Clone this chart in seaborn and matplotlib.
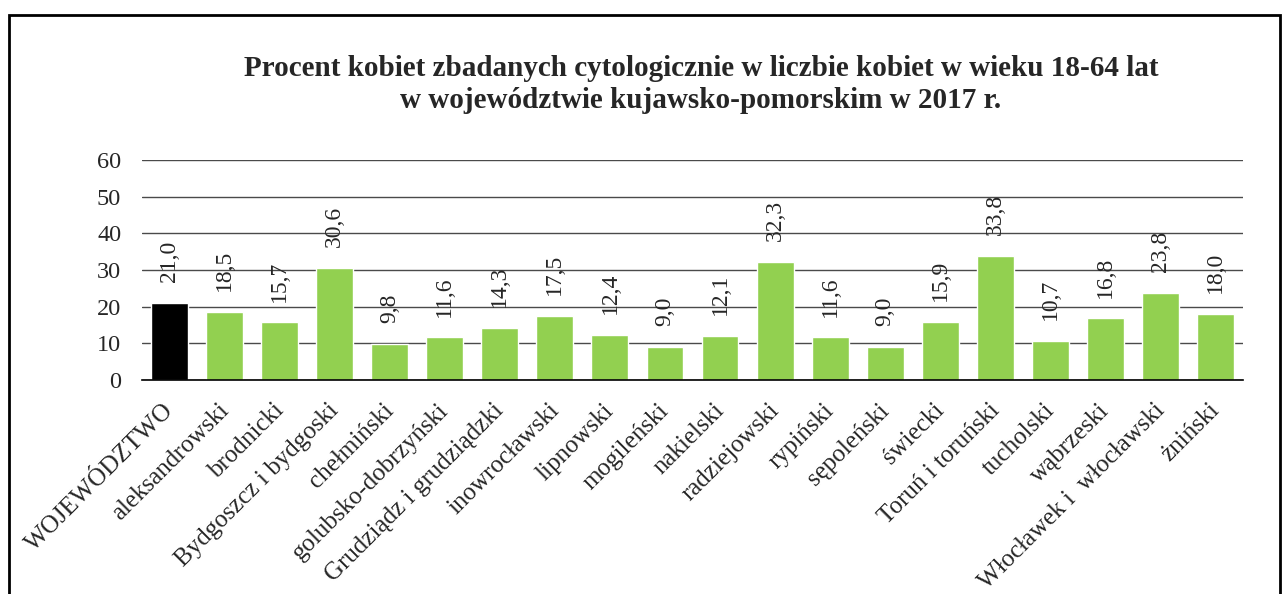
import matplotlib
matplotlib.use("Agg")
import matplotlib.pyplot as plt
import matplotlib.transforms as mtransforms
import seaborn as sns
from matplotlib.patches import Rectangle

categories = ["WOJEWÓDZTWO", "aleksandrowski", "brodnicki", "Bydgoszcz i bydgoski",
              "chełmiński", "golubsko-dobrzyński", "Grudziądz i grudziądzki",
              "inowrocławski", "lipnowski", "mogileński", "nakielski", "radziejowski",
              "rypiński", "sępoleński", "świecki", "Toruń i toruński", "tucholski",
              "wąbrzeski", "Włocławek i  włocławski", "żniński"]
values = [21.0, 18.5, 15.7, 30.6, 9.8, 11.6, 14.3, 17.5, 12.4, 9.0, 12.1, 32.3,
          11.6, 9.0, 15.9, 33.8, 10.7, 16.8, 23.8, 18.0]
yticks = [0, 10, 20, 30, 40, 50, 60]
title = ("Procent kobiet zbadanych cytologicznie w liczbie kobiet w wieku 18-64 lat\n"
         "w województwie kujawsko-pomorskim w 2017 r.")

sns.set_style("white")
plt.rcParams['font.family'] = ['Liberation Serif', 'DejaVu Serif']

fig = plt.figure(figsize=(12.82, 5.94), dpi=100)
ax = fig.add_axes([142/1282, 1-380/594, (1243-142)/1282, (380-160)/594])

colors = ["#000000"] + ["#92D050"] * (len(categories) - 1)
sns.barplot(x=categories, y=values, hue=categories, palette=colors, legend=False,
            width=0.67, ax=ax, saturation=1)

ax.set_ylim(0, 60)
ax.set_xlim(-0.5, len(categories) - 0.5)
ax.set_yticks(yticks)
ax.set_yticklabels([str(t) for t in yticks], fontsize=17.5)
ax.yaxis.grid(True, color="#4a4a4a", linewidth=1)
ax.set_axisbelow(True)
for s in ["left", "right", "top"]:
    ax.spines[s].set_visible(False)
ax.spines["bottom"].set_color("black")
ax.spines["bottom"].set_linewidth(1.2)
ax.tick_params(axis="y", length=0, pad=15)
ax.tick_params(axis="x", length=0, pad=14)
ax.set_xlabel("")
ax.set_ylabel("")
ax.set_xticks(range(len(categories)))
ax.set_xticklabels(categories, rotation=45, ha="right", rotation_mode="anchor", fontsize=18)
shift = mtransforms.ScaledTranslation(-7/100, 0, fig.dpi_scale_trans)
for lbl in ax.get_xticklabels():
    lbl.set_transform(lbl.get_transform() + shift)

for i, v in enumerate(values):
    ax.annotate(f"{v:.1f}".replace(".", ","), xy=(i, v), xytext=(0, 15),
                textcoords="offset points", rotation=90, ha="center", va="bottom",
                fontsize=17)

fig.text(701/1282, 1-55/594, title, ha="center", va="top", fontsize=21,
         fontweight="bold", linespacing=1.25)

fig.patches.append(Rectangle((9/1282, -0.1), (1280-9)/1282, 1-15/594+0.1,
                             transform=fig.transFigure, fill=False,
                             edgecolor="black", linewidth=2))

fig.savefig("out.png", dpi=100)
